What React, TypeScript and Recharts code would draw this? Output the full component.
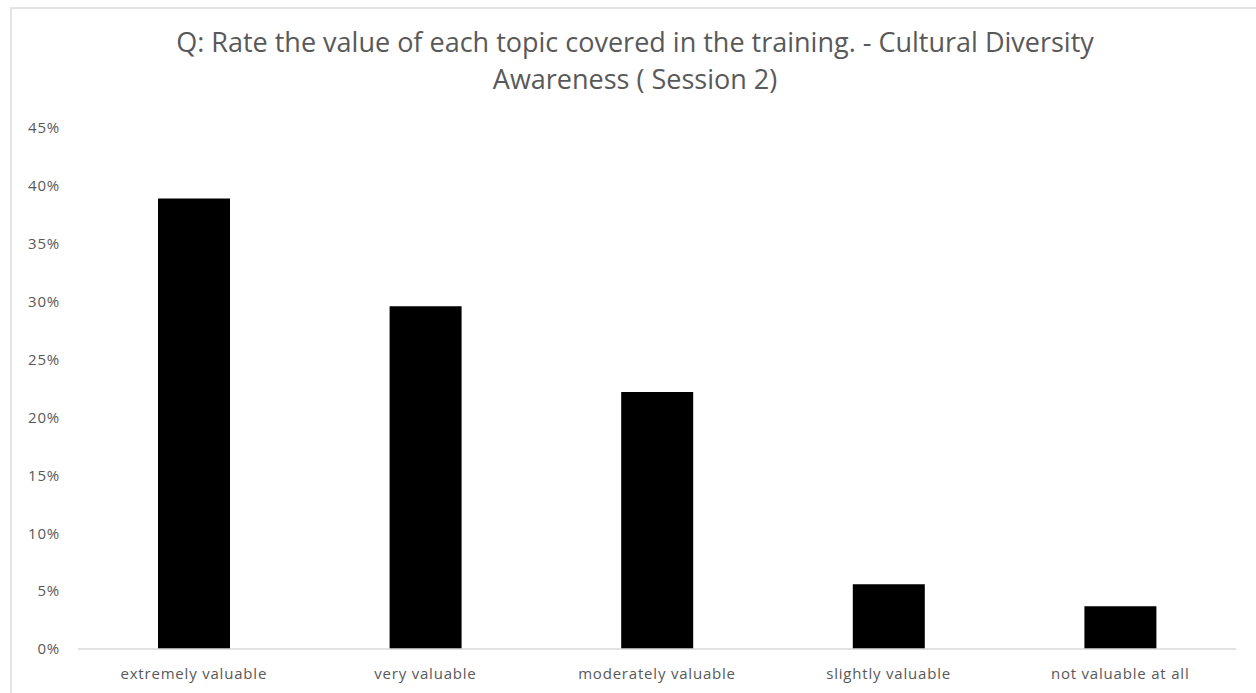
import { BarChart, Bar, XAxis, YAxis } from 'recharts'

const categories = ['extremely valuable', 'very valuable', 'moderately valuable', 'slightly valuable', 'not valuable at all']
const shares = [38.9, 29.6, 22.2, 5.6, 3.7]
const yTicks = [0, 5, 10, 15, 20, 25, 30, 35, 40, 45]
const titleLines = ['Q: Rate the value of each topic covered in the training. - Cultural Diversity', 'Awareness ( Session 2)']

const data = categories.map((c, i) => ({ name: c, value: shares[i] }))

const font = '"Open Sans", Lato, sans-serif'
const tickStyle = { fontSize: 15, fill: '#595959', fontFamily: font, letterSpacing: 0.8 }

export default function App() {
  return (
    <div style={{ position: 'absolute', left: 0, top: 0, width: 1256, height: 693, background: '#fff', fontFamily: font }}>
      <div style={{ position: 'absolute', left: 10, top: 7, right: 0, bottom: 0, borderTop: '2px solid #e3e3e3', borderLeft: '2px solid #e3e3e3' }} />
      <div style={{ position: 'absolute', left: 0, width: 1270, top: 23, textAlign: 'center', fontSize: 27, lineHeight: '37px', color: '#595959' }}>
        {titleLines.map(t => <div key={t}>{t}</div>)}
      </div>
      <BarChart width={1256} height={693} data={data} margin={{ top: 128, right: 20, left: 18, bottom: 14 }}>
        <XAxis
          dataKey="name"
          height={30}
          axisLine={{ stroke: '#d9d9d9', strokeWidth: 1.5 }}
          tickLine={false}
          tick={tickStyle}
          tickMargin={13}
          interval={0}
        />
        <YAxis
          width={60}
          domain={[0, 45]}
          ticks={yTicks}
          axisLine={false}
          tickLine={false}
          tickMargin={12}
          tick={tickStyle}
          tickFormatter={v => `${v}%`}
        />
        <Bar dataKey="value" fill="#000" barSize={72} isAnimationActive={false} />
      </BarChart>
    </div>
  )
}
